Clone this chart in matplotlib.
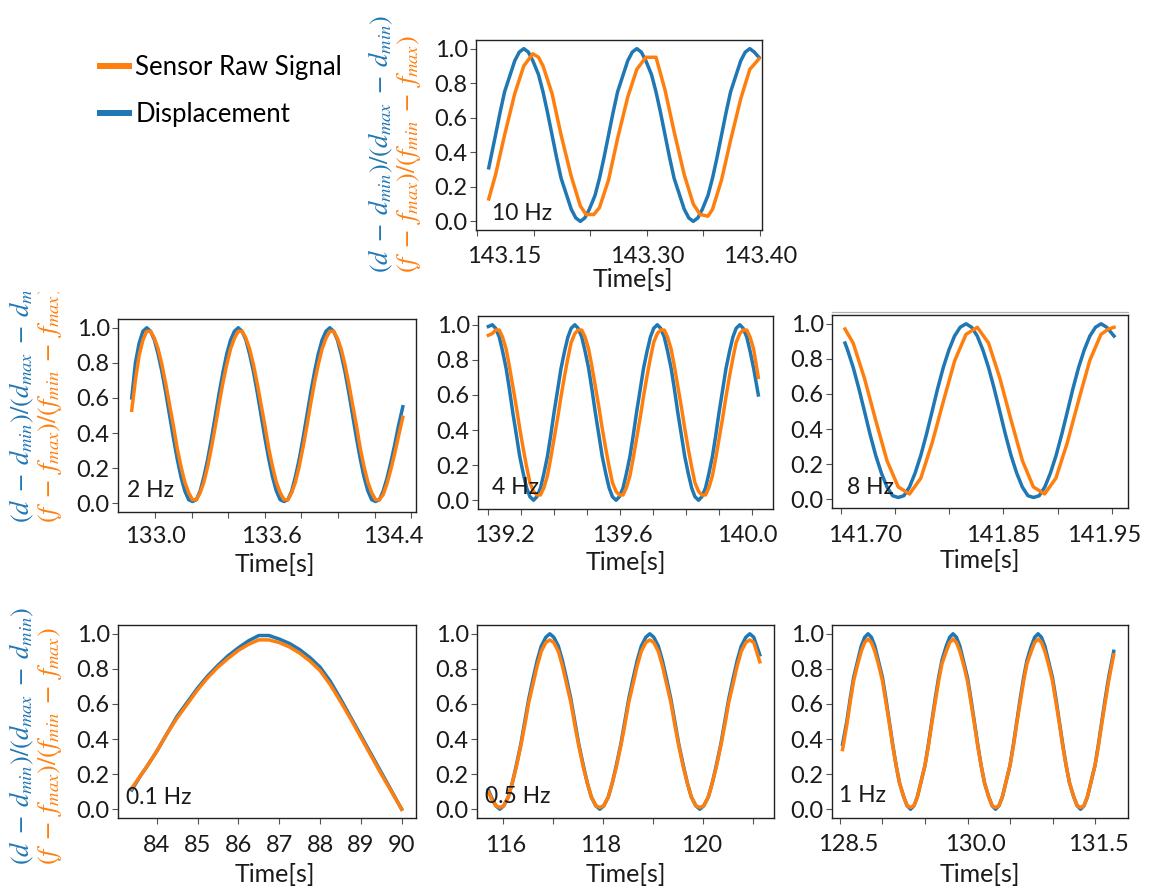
import matplotlib.pyplot as plt
from matplotlib.lines import Line2D
from matplotlib.transforms import Bbox, TransformedBbox

plt.rcParams['font.family'] = ['Lato', 'DejaVu Sans']
plt.rcParams['mathtext.fontset'] = 'stix'

W, H = 1151, 896
BLUE = '#1f77b4'
ORANGE = '#ff7f0e'
INK = '#1a1a1a'

# ---------------------------------------------------------------
# normalised traces, one block per excitation frequency
# ---------------------------------------------------------------
# 10 Hz
t_10hz_disp = [143.160, 143.166, 143.170, 143.174, 143.179, 143.183, 143.187, 143.191,
               143.195, 143.199, 143.204, 143.208, 143.212, 143.216, 143.220, 143.224,
               143.229, 143.233, 143.237, 143.241,
               143.245, 143.249, 143.254, 143.258, 143.262, 143.266, 143.270, 143.274,
               143.279, 143.283, 143.287, 143.291,
               143.295, 143.299, 143.304, 143.308, 143.312, 143.316, 143.320, 143.324,
               143.329, 143.333, 143.337, 143.341,
               143.345, 143.349, 143.354, 143.358, 143.362, 143.366, 143.370, 143.374,
               143.379, 143.383, 143.387, 143.391,
               143.395, 143.399]
disp_10hz = [0.31, 0.50, 0.63, 0.75, 0.85, 0.93, 0.98, 1.00,
             0.98, 0.93, 0.85, 0.75, 0.63, 0.50, 0.37, 0.25, 0.15, 0.07, 0.02, 0.00,
             0.02, 0.07, 0.15, 0.25, 0.37, 0.50, 0.63, 0.75, 0.85, 0.93, 0.98, 1.00,
             0.98, 0.93, 0.85, 0.75, 0.63, 0.50, 0.37, 0.25, 0.15, 0.07, 0.02, 0.00,
             0.02, 0.07, 0.15, 0.25, 0.37, 0.50, 0.63, 0.75, 0.85, 0.93, 0.98, 1.00,
             0.98, 0.95]
t_10hz_raw = [143.160, 143.166, 143.174, 143.183, 143.191, 143.199, 143.204, 143.208,
              143.216, 143.224, 143.233, 143.241, 143.246, 143.253, 143.258, 143.266,
              143.274, 143.283, 143.291, 143.299, 143.308, 143.316, 143.324, 143.333,
              143.341, 143.347, 143.354, 143.358, 143.366, 143.374, 143.383, 143.391,
              143.399]
raw_10hz = [0.13, 0.27, 0.50, 0.74, 0.90, 0.97, 0.95, 0.90, 0.74, 0.50, 0.26, 0.09,
            0.04, 0.04, 0.08, 0.24, 0.48, 0.72, 0.88, 0.95, 0.95, 0.76, 0.52, 0.27,
            0.10, 0.04, 0.03, 0.07, 0.24, 0.47, 0.71, 0.88, 0.94]

# 2 Hz
t_2hz = [132.873, 132.893, 132.913, 132.934, 132.955,
         132.976, 132.997, 133.017, 133.038, 133.059, 133.080, 133.101, 133.122,
         133.142, 133.163, 133.184, 133.205,
         133.226, 133.247, 133.267, 133.288, 133.309, 133.330, 133.351, 133.372,
         133.392, 133.413, 133.434, 133.455,
         133.476, 133.497, 133.517, 133.538, 133.559, 133.580, 133.601, 133.622,
         133.642, 133.663, 133.684, 133.705,
         133.726, 133.747, 133.767, 133.788, 133.809, 133.830, 133.851, 133.872,
         133.892, 133.913, 133.934, 133.955,
         133.976, 133.997, 134.017, 134.038, 134.059, 134.080, 134.101, 134.122,
         134.142, 134.163, 134.184, 134.205,
         134.226, 134.247, 134.267, 134.288, 134.309, 134.330, 134.354]
disp_2hz = [0.60, 0.80, 0.91, 0.98, 1.00,
            0.98, 0.93, 0.85, 0.75, 0.63, 0.50, 0.37, 0.25, 0.15, 0.07, 0.02, 0.01,
            0.02, 0.07, 0.15, 0.25, 0.37, 0.50, 0.63, 0.75, 0.85, 0.93, 0.98, 1.00,
            0.98, 0.93, 0.85, 0.75, 0.63, 0.50, 0.37, 0.25, 0.15, 0.07, 0.02, 0.01,
            0.02, 0.07, 0.15, 0.25, 0.37, 0.50, 0.63, 0.75, 0.85, 0.93, 0.98, 1.00,
            0.98, 0.93, 0.85, 0.75, 0.63, 0.50, 0.37, 0.25, 0.15, 0.07, 0.02, 0.01,
            0.02, 0.07, 0.14, 0.23, 0.33, 0.44, 0.55]
raw_2hz = [0.53, 0.70, 0.84, 0.93, 0.98,
           0.98, 0.94, 0.88, 0.79, 0.68, 0.56, 0.44, 0.31, 0.21, 0.12, 0.06, 0.02,
           0.02, 0.06, 0.12, 0.21, 0.32, 0.44, 0.57, 0.69, 0.79, 0.88, 0.94, 0.98,
           0.98, 0.94, 0.88, 0.79, 0.68, 0.56, 0.44, 0.31, 0.21, 0.12, 0.06, 0.02,
           0.02, 0.06, 0.12, 0.21, 0.32, 0.44, 0.57, 0.69, 0.79, 0.88, 0.94, 0.98,
           0.98, 0.94, 0.88, 0.79, 0.68, 0.56, 0.44, 0.31, 0.21, 0.12, 0.06, 0.02,
           0.02, 0.05, 0.11, 0.19, 0.28, 0.38, 0.49]

# 4 Hz
t_4hz = [139.202, 139.214,
         139.224, 139.235, 139.245, 139.256, 139.266, 139.276, 139.287, 139.297,
         139.308, 139.318, 139.328, 139.339,
         139.349, 139.360, 139.370, 139.381, 139.391, 139.401, 139.412, 139.422,
         139.433, 139.443, 139.453, 139.464,
         139.474, 139.485, 139.495, 139.506, 139.516, 139.526, 139.537, 139.547,
         139.558, 139.568, 139.578, 139.589,
         139.599, 139.610, 139.620, 139.631, 139.641, 139.651, 139.662, 139.672,
         139.683, 139.693, 139.703, 139.714,
         139.724, 139.735, 139.745, 139.756, 139.766, 139.776, 139.787, 139.797,
         139.808, 139.818, 139.828, 139.839,
         139.849, 139.860, 139.870, 139.881, 139.891, 139.901, 139.912, 139.922,
         139.933, 139.943, 139.953, 139.964,
         139.974, 139.985, 139.995, 140.006, 140.020]
disp_4hz = [0.99, 1.00,
            0.98, 0.93, 0.85, 0.75, 0.63, 0.50, 0.37, 0.25, 0.15, 0.07, 0.02, 0.00,
            0.02, 0.07, 0.15, 0.25, 0.37, 0.50, 0.63, 0.75, 0.85, 0.93, 0.98, 1.00,
            0.98, 0.93, 0.85, 0.75, 0.63, 0.50, 0.37, 0.25, 0.15, 0.07, 0.02, 0.00,
            0.02, 0.07, 0.15, 0.25, 0.37, 0.50, 0.63, 0.75, 0.85, 0.93, 0.98, 1.00,
            0.98, 0.93, 0.85, 0.75, 0.63, 0.50, 0.37, 0.25, 0.15, 0.07, 0.02, 0.00,
            0.02, 0.07, 0.15, 0.25, 0.37, 0.50, 0.63, 0.75, 0.85, 0.93, 0.98, 1.00,
            0.98, 0.93, 0.85, 0.75, 0.60]
raw_4hz = [0.94, 0.95,
           0.97, 0.97, 0.93, 0.86, 0.76, 0.65, 0.53, 0.41, 0.29, 0.19, 0.10, 0.05,
           0.03, 0.03, 0.07, 0.14, 0.24, 0.35, 0.47, 0.59, 0.71, 0.81, 0.90, 0.95,
           0.97, 0.97, 0.93, 0.86, 0.76, 0.65, 0.53, 0.41, 0.29, 0.19, 0.10, 0.05,
           0.03, 0.03, 0.07, 0.14, 0.24, 0.35, 0.47, 0.59, 0.71, 0.81, 0.90, 0.95,
           0.97, 0.97, 0.93, 0.86, 0.76, 0.65, 0.53, 0.41, 0.29, 0.19, 0.10, 0.05,
           0.03, 0.03, 0.07, 0.14, 0.24, 0.35, 0.47, 0.59, 0.71, 0.81, 0.90, 0.95,
           0.97, 0.97, 0.93, 0.86, 0.70]

# 8 Hz (raw signal is sampled more coarsely)
t_8hz_disp = [141.7040, 141.7064, 141.7116, 141.7168, 141.7220, 141.7271, 141.7323,
              141.7375, 141.7427, 141.7479, 141.7531,
              141.7583, 141.7635, 141.7687, 141.7739, 141.7791, 141.7843, 141.7894,
              141.7946, 141.7998, 141.8050, 141.8102, 141.8156,
              141.8208, 141.8260, 141.8312, 141.8364, 141.8416, 141.8468, 141.8519,
              141.8571, 141.8623, 141.8675, 141.8727, 141.8779,
              141.8831, 141.8883, 141.8935, 141.8987, 141.9039, 141.9091, 141.9142,
              141.9194, 141.9246, 141.9298, 141.9350, 141.9402,
              141.9454, 141.9521]
disp_8hz = [0.89, 0.85, 0.75, 0.63, 0.50, 0.37, 0.25, 0.15, 0.07, 0.02, 0.01,
            0.02, 0.07, 0.15, 0.25, 0.37, 0.50, 0.63, 0.75, 0.85, 0.93, 0.98, 1.00,
            0.98, 0.93, 0.85, 0.75, 0.63, 0.50, 0.37, 0.25, 0.15, 0.07, 0.02, 0.01,
            0.02, 0.07, 0.15, 0.25, 0.37, 0.50, 0.63, 0.75, 0.85, 0.93, 0.98, 1.00,
            0.98, 0.93]
t_8hz_raw = [141.7040, 141.7115, 141.7219, 141.7323, 141.7427, 141.7531, 141.7635,
             141.7739, 141.7843, 141.7948, 141.8052, 141.8156, 141.8260, 141.8364,
             141.8468, 141.8572, 141.8676, 141.8777, 141.8881, 141.8985, 141.9089,
             141.9193, 141.9297, 141.9401, 141.9470, 141.9521]
raw_8hz = [0.97, 0.89, 0.69, 0.45, 0.22, 0.07, 0.03, 0.12, 0.32, 0.56, 0.79, 0.94,
           0.98, 0.89, 0.69, 0.45, 0.22, 0.07, 0.03, 0.12, 0.32, 0.56, 0.79, 0.94,
           0.97, 0.98]

# 0.1 Hz
t_01hz = [83.39, 83.60, 83.75, 84.00, 84.25, 84.50, 84.75, 85.00, 85.25, 85.50,
          85.75, 86.00, 86.25, 86.50, 86.75, 87.00, 87.25, 87.50, 87.75, 88.00,
          88.25, 88.50, 88.75, 89.00, 89.25, 89.50, 89.75, 90.00]
disp_01hz = [0.11, 0.19, 0.24, 0.33, 0.43, 0.53, 0.61, 0.69, 0.76, 0.82,
             0.875, 0.92, 0.96, 0.99, 0.99, 0.97, 0.945, 0.91, 0.865, 0.81,
             0.73, 0.63, 0.525, 0.42, 0.315, 0.21, 0.105, 0.00]
raw_01hz = [0.12, 0.19, 0.24, 0.33, 0.43, 0.52, 0.60, 0.68, 0.75, 0.81,
            0.86, 0.905, 0.94, 0.965, 0.965, 0.95, 0.925, 0.89, 0.845, 0.79,
            0.71, 0.615, 0.515, 0.41, 0.305, 0.20, 0.10, 0.00]

# 0.5 Hz
t_05hz = [115.70, 115.76, 115.85, 115.93,
          116.01, 116.10, 116.18, 116.26, 116.35, 116.43, 116.51, 116.60, 116.68,
          116.76, 116.85, 116.93,
          117.01, 117.10, 117.18, 117.26, 117.35, 117.43, 117.51, 117.60, 117.68,
          117.76, 117.85, 117.93,
          118.01, 118.10, 118.18, 118.26, 118.35, 118.43, 118.51, 118.60, 118.68,
          118.76, 118.85, 118.93,
          119.01, 119.10, 119.18, 119.26, 119.35, 119.43, 119.51, 119.60, 119.68,
          119.76, 119.85, 119.93,
          120.01, 120.10, 120.18, 120.26, 120.35, 120.43, 120.51, 120.60, 120.68,
          120.76, 120.85, 120.93,
          121.01, 121.13]
disp_05hz = [0.11, 0.07, 0.02, 0.00,
             0.02, 0.07, 0.15, 0.25, 0.37, 0.50, 0.63, 0.75, 0.85, 0.93, 0.98, 1.00,
             0.98, 0.93, 0.85, 0.75, 0.63, 0.50, 0.37, 0.25, 0.15, 0.07, 0.02, 0.00,
             0.02, 0.07, 0.15, 0.25, 0.37, 0.50, 0.63, 0.75, 0.85, 0.93, 0.98, 1.00,
             0.98, 0.93, 0.85, 0.75, 0.63, 0.50, 0.37, 0.25, 0.15, 0.07, 0.02, 0.00,
             0.02, 0.07, 0.15, 0.25, 0.37, 0.50, 0.63, 0.75, 0.85, 0.93, 0.98, 1.00,
             0.98, 0.88]
raw_05hz = [0.10, 0.06, 0.02, 0.01,
            0.02, 0.07, 0.15, 0.24, 0.36, 0.48, 0.61, 0.72, 0.82, 0.90, 0.95, 0.965,
            0.95, 0.90, 0.82, 0.72, 0.61, 0.48, 0.36, 0.24, 0.15, 0.07, 0.02, 0.01,
            0.02, 0.07, 0.15, 0.24, 0.36, 0.48, 0.61, 0.72, 0.82, 0.90, 0.95, 0.965,
            0.95, 0.90, 0.82, 0.72, 0.61, 0.48, 0.36, 0.24, 0.15, 0.07, 0.02, 0.01,
            0.02, 0.07, 0.15, 0.24, 0.36, 0.48, 0.61, 0.72, 0.82, 0.90, 0.95, 0.965,
            0.95, 0.84]

# 1 Hz
t_1hz = [128.53, 128.58, 128.62, 128.66, 128.71, 128.75, 128.79, 128.83,
         128.87, 128.91, 128.95, 129.00, 129.04, 129.08, 129.12, 129.16, 129.20,
         129.25, 129.29, 129.33,
         129.37, 129.41, 129.45, 129.50, 129.54, 129.58, 129.62, 129.66, 129.70,
         129.75, 129.79, 129.83,
         129.87, 129.91, 129.95, 130.00, 130.04, 130.08, 130.12, 130.16, 130.20,
         130.25, 130.29, 130.33,
         130.37, 130.41, 130.45, 130.50, 130.54, 130.58, 130.62, 130.66, 130.70,
         130.75, 130.79, 130.83,
         130.87, 130.91, 130.95, 131.00, 131.04, 131.08, 131.12, 131.16, 131.20,
         131.25, 131.29, 131.33,
         131.37, 131.41, 131.45, 131.50, 131.54, 131.58, 131.62, 131.66, 131.72]
disp_1hz = [0.37, 0.50, 0.63, 0.75, 0.85, 0.93, 0.98, 1.00,
            0.98, 0.93, 0.85, 0.75, 0.63, 0.50, 0.37, 0.25, 0.15, 0.07, 0.02, 0.00,
            0.02, 0.07, 0.15, 0.25, 0.37, 0.50, 0.63, 0.75, 0.85, 0.93, 0.98, 1.00,
            0.98, 0.93, 0.85, 0.75, 0.63, 0.50, 0.37, 0.25, 0.15, 0.07, 0.02, 0.00,
            0.02, 0.07, 0.15, 0.25, 0.37, 0.50, 0.63, 0.75, 0.85, 0.93, 0.98, 1.00,
            0.98, 0.93, 0.85, 0.75, 0.63, 0.50, 0.37, 0.25, 0.15, 0.07, 0.02, 0.00,
            0.02, 0.07, 0.15, 0.25, 0.37, 0.50, 0.63, 0.75, 0.90]
raw_1hz = [0.34, 0.48, 0.61, 0.73, 0.83, 0.90, 0.95, 0.97,
           0.95, 0.90, 0.83, 0.73, 0.61, 0.49, 0.36, 0.25, 0.15, 0.07, 0.02, 0.01,
           0.02, 0.07, 0.15, 0.25, 0.36, 0.49, 0.61, 0.73, 0.83, 0.90, 0.95, 0.97,
           0.95, 0.90, 0.83, 0.73, 0.61, 0.49, 0.36, 0.25, 0.15, 0.07, 0.02, 0.01,
           0.02, 0.07, 0.15, 0.25, 0.36, 0.49, 0.61, 0.73, 0.83, 0.90, 0.95, 0.97,
           0.95, 0.90, 0.83, 0.73, 0.61, 0.49, 0.36, 0.25, 0.15, 0.07, 0.02, 0.01,
           0.02, 0.07, 0.15, 0.25, 0.36, 0.49, 0.61, 0.73, 0.88]

# x ticks (marks) and the labelled subset
ticks_10hz = [143.15, 143.20, 143.25, 143.30, 143.35, 143.40]
labels_10hz = ['143.15', '143.30', '143.40']
ticks_2hz = [133.0, 133.2, 133.4, 133.6, 133.8, 134.0, 134.2, 134.4]
labels_2hz = ['133.0', '133.6', '134.4']
ticks_4hz = [139.2, 139.3, 139.4, 139.5, 139.6, 139.7, 139.8, 139.9, 140.0]
labels_4hz = ['139.2', '139.6', '140.0']
ticks_8hz = [141.70, 141.75, 141.80, 141.85, 141.90, 141.95]
labels_8hz = ['141.70', '141.85', '141.95']
ticks_01hz = [84, 85, 86, 87, 88, 89, 90]
labels_01hz = ['84', '85', '86', '87', '88', '89', '90']
ticks_05hz = [116, 117, 118, 119, 120, 121]
labels_05hz = ['116', '118', '120']
ticks_1hz = [128.5, 129.0, 129.5, 130.0, 130.5, 131.0, 131.5]
labels_1hz = ['128.5', '130.0', '131.5']

y_ticks = [0.0, 0.2, 0.4, 0.6, 0.8, 1.0]

TICK_FS = 17
XLAB_FS = 18
NOTE_FS = 16.5
LEG_FS = 18.5
YLAB_FS = 19

fig = plt.figure(figsize=(W / 100, H / 100), dpi=100)


def px_rect(l, t, r, b):
    return [l / W, 1 - b / H, (r - l) / W, (b - t) / H]


def draw_panel(rect, t_d, d, t_r, r, xlim, ticks, labels, shifts, note, note_xy,
               xlab_dx=0, tick_gap=33, xlab_gap=61):
    ax = fig.add_axes(px_rect(*rect))
    ax.plot(t_d, d, color=BLUE, lw=2.5)
    ax.plot(t_r, r, color=ORANGE, lw=2.5)
    ax.set_xlim(*xlim)
    ax.set_ylim(-0.05, 1.05)
    ax.set_xticks(ticks)
    ax.set_yticks(y_ticks)
    ax.set_yticklabels([f'{v:.1f}' for v in y_ticks])
    ax.tick_params(axis='x', labelbottom=False, length=4, width=0.8, color='#555555')
    ax.tick_params(axis='y', length=4, width=0.8, color='#555555', pad=2,
                   labelsize=TICK_FS, labelcolor=INK)
    for s in ax.spines.values():
        s.set_linewidth(1.0)
        s.set_color('#222222')
    for lab, dx in zip(labels, shifts):
        ax.annotate(lab, xy=(float(lab), 0), xycoords=ax.get_xaxis_transform(),
                    xytext=(dx, -tick_gap), textcoords='offset pixels',
                    ha='center', va='baseline', fontsize=TICK_FS, color=INK)
    ax.annotate('Time[s]', xy=(0.5, 0), xycoords='axes fraction',
                xytext=(xlab_dx, -xlab_gap), textcoords='offset pixels',
                ha='center', va='baseline', fontsize=XLAB_FS, color=INK)
    ax.text(note_xy[0], note_xy[1], note, transform=ax.transAxes,
            fontsize=NOTE_FS, color=INK, va='baseline')
    return ax


draw_panel((476, 40, 762, 230), t_10hz_disp, disp_10hz, t_10hz_raw, raw_10hz,
           (143.1487, 143.4018), ticks_10hz, labels_10hz, [27, 0, 0],
           '10 Hz', (0.056, 0.053), xlab_dx=14, tick_gap=33, xlab_gap=57)
draw_panel((118, 319, 416, 512), t_2hz, disp_2hz, t_2hz, raw_2hz,
           (132.798, 134.426), ticks_2hz, labels_2hz, [0, 7, -18],
           '2 Hz', (0.03, 0.08), xlab_dx=8, tick_gap=31, xlab_gap=60)
draw_panel((478, 316, 773, 509), t_4hz, disp_4hz, t_4hz, raw_4hz,
           (139.1706, 140.0645), ticks_4hz, labels_4hz, [17, 3, -4],
           '4 Hz', (0.046, 0.078), tick_gap=33, xlab_gap=61)
draw_panel((832, 315, 1128, 508), t_8hz_disp, disp_8hz, t_8hz_raw, raw_8hz,
           (141.692, 141.965), ticks_8hz, labels_8hz, [24, 0, -8],
           '8 Hz', (0.05, 0.073), tick_gap=34, xlab_gap=60)
draw_panel((118, 625, 416, 818), t_01hz, disp_01hz, t_01hz, raw_01hz,
           (83.052, 90.351), ticks_01hz, labels_01hz, [0] * 7,
           '0.1 Hz', (0.027, 0.073), xlab_dx=8, tick_gap=34, xlab_gap=64)
draw_panel((477, 625, 774, 818), t_05hz, disp_05hz, t_05hz, raw_05hz,
           (115.474, 121.414), ticks_05hz, labels_05hz, [2, -3, -2],
           '0.5 Hz', (0.027, 0.076), tick_gap=34, xlab_gap=64)
draw_panel((832, 625, 1128, 818), t_1hz, disp_1hz, t_1hz, raw_1hz,
           (128.406, 131.888), ticks_1hz, labels_1hz, [8, 8, 3],
           '1 Hz', (0.025, 0.081), tick_gap=33, xlab_gap=64)

# faint second frame line above the 8 Hz panel
fig.add_artist(Line2D([832 / W, 1128 / W], [1 - 312.5 / H, 1 - 312.5 / H],
                      color='#b0b0b0', lw=0.9))

# stacked two-colour y labels, cropped like the panels they belong to
blue_lab = r'$(d\;-\;d_{min})/(d_{max}\;-\;d_{min})$'
orange_lab = r'$(f\;-\;f_{max})/(f_{min}\;-\;f_{max})$'
ylab_spots = [
    # (blue x, orange x, bottom y, clip top y) in pixels from the top-left
    (381, 409, 273, 10),
    (22, 50, 523, 292),
    (22, 50, 865, 560),
]
for bx, ox, by, clip_top in ylab_spots:
    clip = TransformedBbox(Bbox.from_extents(0, 0, 1, 1 - clip_top / H), fig.transFigure)
    for x, s, c in [(bx, blue_lab, BLUE), (ox, orange_lab, ORANGE)]:
        t = fig.text(x / W, 1 - by / H, s, rotation=90, ha='center', va='bottom',
                     fontsize=YLAB_FS, color=c)
        t.set_clip_box(clip)
        t.set_clip_on(True)

handles = [Line2D([], [], color=ORANGE, lw=4.3, solid_capstyle='butt'),
           Line2D([], [], color=BLUE, lw=4.3, solid_capstyle='butt')]
fig.legend(handles, ['Sensor Raw Signal', 'Displacement'], loc='upper left',
           bbox_to_anchor=(97 / W, 1 - 55 / H), frameon=False, fontsize=LEG_FS,
           handlelength=1.37, handletextpad=0.12, labelspacing=0.84, borderpad=0,
           borderaxespad=0)

fig.savefig('out.png', dpi=100)
